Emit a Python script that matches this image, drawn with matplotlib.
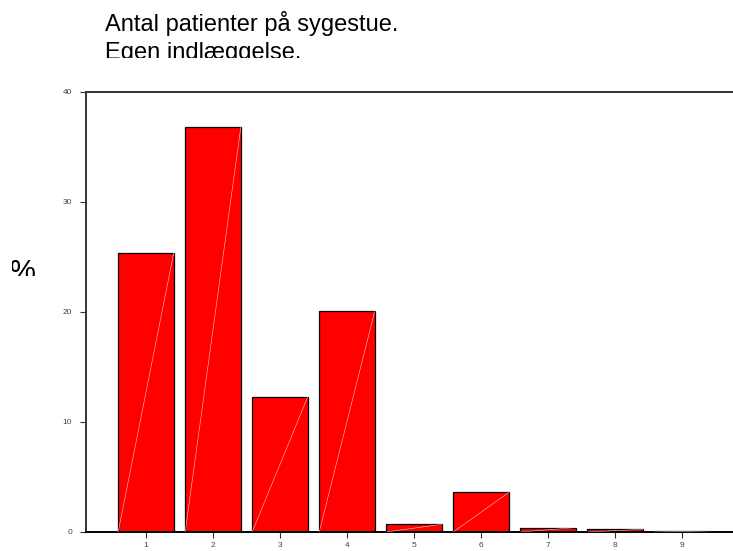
import matplotlib.pyplot as plt
from matplotlib.transforms import Bbox

# data
categories = [1, 2, 3, 4, 5, 6, 7, 8, 9]
percent = [25.4, 36.8, 12.3, 20.1, 0.7, 3.6, 0.4, 0.25, 0.1]
title_lines = ["Antal patienter på sygestue.", "Egen indlæggelse."]
yticks = [0, 10, 20, 30, 40]

plt.rcParams['font.family'] = ['Liberation Sans', 'DejaVu Sans']

W, H = 733, 551
fig = plt.figure(figsize=(W / 100, H / 100), dpi=100)
ax = fig.add_axes([86 / W, (H - 532) / H, (W - 86) / W, (532 - 92) / H])

bw = 0.83
ax.bar(categories, percent, width=bw, color="#ff0000",
       edgecolor="black", linewidth=0.9, zorder=2)
# thin white diagonal inside every bar
for x, v in zip(categories, percent):
    ax.plot([x - bw / 2, x + bw / 2], [0, v], color="white",
            linewidth=0.4, alpha=0.8, zorder=3)

ax.set_xlim(0.105, 9.76)
ax.set_ylim(0, 40)
ax.set_xticks(categories)
ax.set_xticklabels([str(c) for c in categories])
ax.set_yticks(yticks)
ax.tick_params(axis="both", labelsize=6, length=4, width=0.8,
               colors="#333333", labelcolor="#444444")
ax.tick_params(axis="y", pad=6)
ax.tick_params(axis="x", pad=3)
ax.spines["right"].set_visible(False)
for s in ["left", "top"]:
    ax.spines[s].set_color("#333333")
    ax.spines[s].set_linewidth(1.4)
ax.spines["bottom"].set_color("black")
ax.spines["bottom"].set_linewidth(1.4)

# title, clipped at the bottom like the original
clip = Bbox.from_extents(0, H - 58, W, H)
for i, line in enumerate(title_lines):
    t = fig.text(105 / W, 1 - (31 + 28 * i) / H, line, fontsize=17,
                 ha="left", va="baseline", color="black")
    t.set_clip_on(True)
    t.set_clip_box(clip)

# clipped percent sign as y label
t = fig.text(10 / W, 1 - 280 / H, "%", fontsize=21, ha="left",
             va="baseline", color="black")
t.set_clip_on(True)
t.set_clip_box(Bbox.from_extents(12, H - 276, 60, H - 240))

plt.savefig("out.png", dpi=100)
